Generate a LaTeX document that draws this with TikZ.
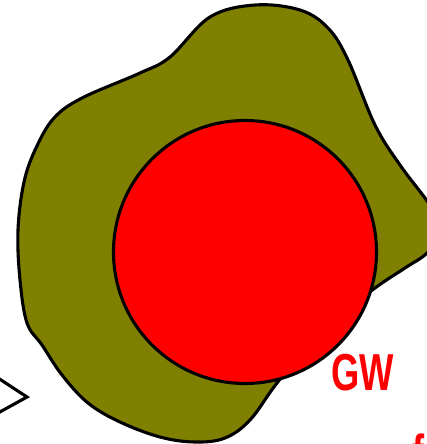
\documentclass[tikz,border=0pt]{standalone}
\usepackage{fontspec}
\newfontfamily\gwfont{Liberation Sans}
\usetikzlibrary{positioning}
\definecolor{blobolive}{RGB}{128,128,0}
\definecolor{gwred}{RGB}{255,0,0}

\begin{document}
\begin{tikzpicture}[x=1pt,y=-1pt,line join=round]
\useasboundingbox (0,0) rectangle (427,444);
\clip (0,0) rectangle (427,444);
% outer blob
\draw[line width=3.1pt,fill=blobolive] plot[smooth cycle,tension=0.6] coordinates {
  (27,323) (20,280) (18,230) (24,182) (36,148) (54,118) (82,98) (140,73)
  (170,57) (210,17) (255,5) (300,10) (328,28) (348,60) (375,125) (400,165)
  (430,205) (442,228) (428,252) (405,268) (375,288) (320,330) (277,383)
  (250,420) (225,438) (195,442) (160,437) (120,422) (88,403) (62,375) (42,345)};
% inner circle
\node[circle,draw,line width=3.1pt,fill=gwred,minimum size=263pt,inner sep=0pt] (core) at (245,252) {};
\node[anchor=base west,inner sep=0pt,text=gwred,font=\gwfont\bfseries\fontsize{52}{52}\selectfont] (gw) at (331,390) {\scalebox{0.7}[1]{GW}};
\node[anchor=base west,inner sep=0pt,text=gwred,font=\gwfont\bfseries\fontsize{52}{52}\selectfont] (gwnext) at (412,471) {\scalebox{0.7}[1]{f}};
% arrow tip at the left
\coordinate (tipup) at (-2,378);
\coordinate (tip) at (27,397);
\coordinate (tipdown) at (-2,413);
\draw[line width=3.1pt,line join=miter] (tipup) -- (tip) -- (tipdown);
\end{tikzpicture}
\end{document}
